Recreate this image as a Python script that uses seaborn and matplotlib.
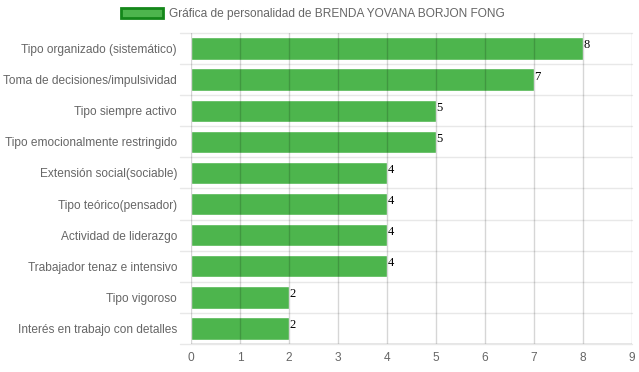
import pandas as pd
import numpy as np
import matplotlib
matplotlib.use("Agg")
import matplotlib.pyplot as plt
import seaborn as sns
from matplotlib.patches import Patch

categorias = ["Tipo organizado (sistemático)", "Toma de decisiones/impulsividad",
              "Tipo siempre activo", "Tipo emocionalmente restringido",
              "Extensión social(sociable)", "Tipo teórico(pensador)",
              "Actividad de liderazgo", "Trabajador tenaz e intensivo",
              "Tipo vigoroso", "Interés en trabajo con detalles"]
valores = [8, 7, 5, 5, 4, 4, 4, 4, 2, 2]
x_ticks = [0, 1, 2, 3, 4, 5, 6, 7, 8, 9]
titulo = "Gráfica de personalidad de BRENDA YOVANA BORJON FONG"

data = pd.DataFrame({"Rasgo": categorias, "Valor": valores})

sns.set_style("white")
plt.rcParams['font.family'] = ['Liberation Sans', 'DejaVu Sans']

fig = plt.figure(figsize=(6.39, 3.72), dpi=100)
ax = fig.add_axes([191/639, 1-344/372, (632-191)/639, (344-33)/372])

verde = "#4db54d"
sns.barplot(y="Rasgo", x="Valor", data=data, color=verde, width=0.72,
            saturation=1, ax=ax, zorder=2)

ax.set_xlim(0, 9)
ax.set_ylim(len(categorias) - 0.5, -0.5)
ax.set_xticks(x_ticks)
ax.set_xlabel("")
ax.set_ylabel("")

# vertical grid lines over the bars
for t in x_ticks:
    ax.axvline(t, color="#000000", alpha=0.16, lw=1, zorder=3)
# light horizontal lines between categories
for i in range(len(categorias) + 1):
    ax.axhline(i - 0.5, color="#e8e8e8", lw=1, zorder=1, clip_on=False,
               xmin=-11/441, xmax=1)

for s in ax.spines.values():
    s.set_visible(False)
ax.axhline(len(categorias) - 0.5, color="#999999", lw=1, zorder=4)

ax.tick_params(axis="x", length=5, color="#cccccc", labelsize=8.6, labelcolor="#666666", pad=1)
ax.tick_params(axis="y", length=0, labelsize=8.6, labelcolor="#666666", pad=10)

for i, v in enumerate(valores):
    ax.text(v + 0.01, i - 0.1, str(v), va="center", ha="left", fontsize=9,
            family="Liberation Serif", color="#000000", zorder=5)

handle = Patch(facecolor=verde, edgecolor="#14871a", linewidth=2)
fig.legend([handle], [titulo], loc="center", bbox_to_anchor=(313/639, 1-14/372),
           frameon=False, fontsize=8.6, labelcolor="#666666",
           handlelength=3.5, handleheight=1.0, handletextpad=0.5)

fig.savefig("out.png", dpi=100)
